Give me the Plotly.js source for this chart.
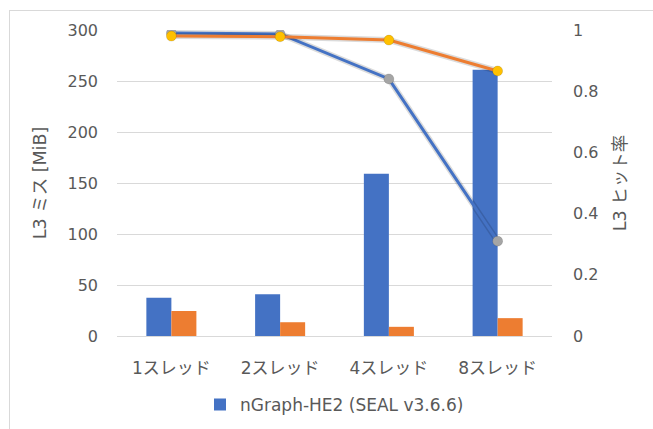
<!DOCTYPE html>
<html><head><meta charset="utf-8">
<script src="https://cdn.plot.ly/plotly-3.0.1.min.js"></script>
<style>
body{margin:0;background:#fff;}
#wrap{position:relative;width:653px;height:429px;overflow:hidden;}
#chart{position:absolute;left:0;top:0;width:653px;height:429px;}
#frame{position:absolute;left:9px;top:10px;width:700px;height:500px;border-left:1px solid #d9d9d9;border-top:1px solid #d9d9d9;pointer-events:none;}
</style></head>
<body><div id="wrap"><div id="chart"></div><div id="frame"></div></div>
<script>
const categories = ["1スレッド","2スレッド","4スレッド","8スレッド"];
const missBlue = [37.5, 41, 159, 261];
const missOrange = [24.5, 13.5, 9, 17.5];
const hitBlue = [0.99, 0.987, 0.84, 0.31];
const hitOrange = [0.98, 0.978, 0.967, 0.866];
const legendName = "nGraph-HE2 (SEAL v3.6.6)";
const leftTitle = "L3 ミス [MiB]";
const rightTitle = "L3 ヒット率";

const FONT = "DejaVu Sans, 'Noto Sans CJK JP', sans-serif";
const txt = "#595959";

function lineTraces(y, lineColor, markerColor){
  return [
    {type:"scatter", mode:"lines", x:categories, y:y, yaxis:"y2", showlegend:false, hoverinfo:"skip",
     line:{color:"rgba(0,0,0,0.14)", width:6}},
    {type:"scatter", mode:"lines+markers", x:categories, y:y, yaxis:"y2", showlegend:false,
     line:{color:lineColor, width:3},
     marker:{color:markerColor, size:10, line:{color:"rgba(0,0,0,0.12)", width:1}}}
  ];
}

const traces = [
  {type:"bar", x:categories, y:missBlue, name:legendName, marker:{color:"#4472c4"}, showlegend:true},
  {type:"bar", x:categories, y:missOrange, name:"orange", marker:{color:"#ed7d31"}, showlegend:false},
  ...lineTraces(hitBlue, "#4472c4", "#a5a5a5"),
  ...lineTraces(hitOrange, "#ed7d31", "#ffc000")
];

const layout = {
  width:653, height:429,
  margin:{l:117, r:101, t:30, b:93, autoexpand:false},
  paper_bgcolor:"#fff", plot_bgcolor:"#fff",
  font:{family:FONT, size:16, color:txt},
  barmode:"group", bargap:0.54, bargroupgap:0,
  xaxis:{showgrid:false, zeroline:false, showline:false, ticks:"", ticklabelstandoff:20,
         tickfont:{size:17, color:txt}},
  yaxis:{range:[0,300], dtick:50, showgrid:true, gridcolor:"#d9d9d9", gridwidth:1,
         zeroline:true, zerolinecolor:"#d9d9d9", zerolinewidth:1, showline:false, ticks:"",
         ticklabelstandoff:18, tickfont:{size:16, color:txt},
         title:{text:leftTitle, font:{size:17.5, color:txt}, standoff:16}},
  yaxis2:{range:[0,1], dtick:0.2, overlaying:"y", side:"right", showgrid:false, zeroline:false,
          showline:false, ticks:"", ticklabelstandoff:20, tickfont:{size:16, color:txt},
          title:{text:rightTitle, font:{size:17.5, color:txt}, standoff:16}},
  legend:{orientation:"h", x:0.5, xanchor:"center", y:-0.225, yanchor:"middle",
          font:{size:17, color:txt}},
  showlegend:true
};
Plotly.newPlot("chart", traces, layout, {displayModeBar:false, staticPlot:true});
</script></body></html>
